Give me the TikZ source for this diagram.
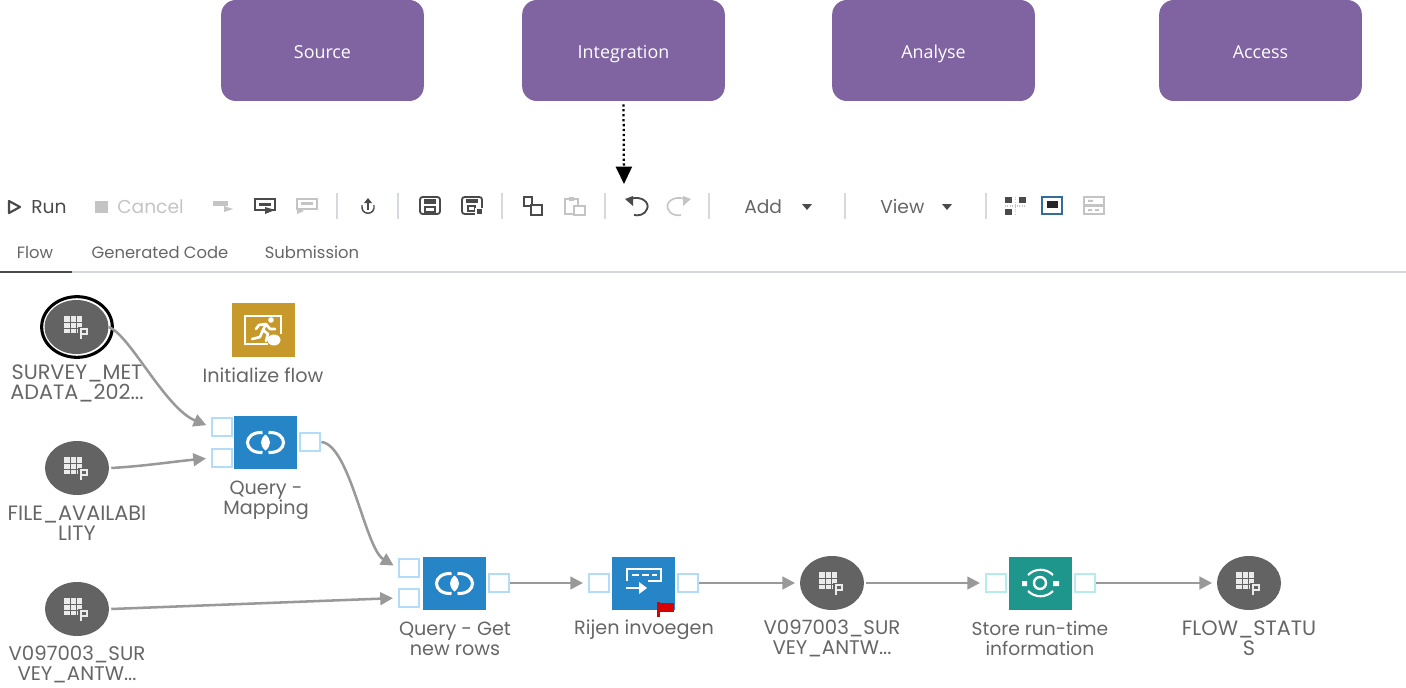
\documentclass[tikz,border=0pt]{standalone}
\usepackage{fontspec}
\setmainfont{Poppins}
\newfontfamily\boxfont{Open Sans}
\usetikzlibrary{arrows.meta,shapes.geometric}
\definecolor{phase}{HTML}{8064A2}
\definecolor{gcirc}{HTML}{636363}
\definecolor{qblue}{HTML}{2585C7}
\definecolor{qgold}{HTML}{C6992A}
\definecolor{qteal}{HTML}{1F968B}
\definecolor{pblue}{HTML}{B3DCFB}
\definecolor{pteal}{HTML}{B5EDEA}
\definecolor{lgrey}{HTML}{666666}
\definecolor{conn}{HTML}{999999}
\definecolor{dis}{HTML}{C4C4C4}
\definecolor{sepc}{HTML}{D5D8DC}
\definecolor{tbar}{HTML}{4A4A4A}
\tikzset{
  x=0.75pt,y=-0.75pt,
  phasebox/.style={draw=none,fill=phase,rounded corners=11pt,minimum width=152pt,minimum height=75.75pt,inner sep=0pt,text=white,text height=13pt,text depth=1pt,font=\boxfont\fontsize{13.4}{15}\selectfont},
  lbl/.style={text=lgrey,align=center,inner sep=0pt,font=\fontsize{14.4}{15}\selectfont},
  storelbl/.style={lbl,font=\fontsize{14.0}{15}\selectfont},
  capslbl/.style={lbl,font=\fontsize{15.6}{15}\selectfont},
  codelbl/.style={lbl,font=\fontsize{14.8}{15}\selectfont},
  tbtext/.style={inner sep=0pt,text height=10pt,text depth=0pt,font=\fontsize{14}{15}\selectfont,text=tbar},
  tabtext/.style={inner sep=0pt,text height=10pt,text depth=0pt,font=\fontsize{12.3}{13}\selectfont,text=lgrey},
  tablecirc/.style={ellipse,fill=gcirc,minimum width=48pt,minimum height=40.5pt,inner sep=0pt},
  stepsq/.style={minimum width=47.25pt,minimum height=40pt,inner sep=0pt},
  portb/.style={draw=pblue,line width=2.1pt,fill=white,minimum width=15pt,minimum height=13.5pt,inner sep=0pt},
  portt/.style={portb,draw=pteal},
  flow/.style={draw=conn,line width=1.9pt,-{Triangle[length=9.5pt,width=9.5pt]},shorten >=3.5pt},
  sepl/.style={draw=sepc,line width=1pt},
  ic/.style={line width=1.1pt},
  wh/.style={draw=white,line width=1.5pt},
  table icon/.pic={
    \fill[white!92!black] (-11,-9) rectangle (7,8);
    \foreach \u in {-5,1} \draw[gcirc,line width=.45pt] (\u,-9) -- (\u,8);
    \foreach \v in {-3,3} \draw[gcirc,line width=.45pt] (-11,\v) -- (7,\v);
    \fill[gcirc] (3,2) rectangle (15,15);
    \draw[white!92!black,line width=1.2pt] (6,14) -- (6,4) -- (12,4) -- (12,9) -- (6,9);
  },
  query icon/.pic={
    \draw[white,line width=2.3pt] (-3,-10) .. controls (-23,-11) and (-23,11) .. (-3,10);
    \draw[white,line width=2.3pt] (3,-10) .. controls (23,-11) and (23,11) .. (3,10);
    \fill[white] (0,-8) .. controls (6,-3) and (6,3) .. (0,8) .. controls (-6,3) and (-6,-3) .. (0,-8);
  },
}
\begin{document}
\begin{tikzpicture}
\useasboundingbox (0,0) rectangle (1406,688);
% phase boxes
\node[phasebox] (source) at (322.5,50.5) {Source};
\node[phasebox] (integration) at (623.5,50.5) {Integration};
\node[phasebox] (analyse) at (933.5,50.5) {Analyse};
\node[phasebox] (access) at (1260.5,50.5) {Access};
\coordinate (toolbarin) at (624,184);
\draw[black,line width=1.7pt,dotted,-{Triangle[length=13pt,width=12pt]}] (integration.south) ++(0,3) -- (toolbarin);
% toolbar
\draw[tbar,line width=1.6pt,line join=round] (9,201) -- (20,207) -- (9,213) -- cycle;
\node[tbtext,anchor=west] (run) at (31,207) {Run};
\fill[dis] (95,201) rectangle (108,213);
\node[tbtext,anchor=west,text=dis] (cancel) at (117,207) {Cancel};
% step icons
\fill[dis] (213,201) rectangle (228,206);
\fill[dis] (224,206) -- (233,209) -- (224,212) -- cycle;
\draw[tbar,line width=1.4pt] (255,199) rectangle (275,210);
\fill[tbar] (259,203) rectangle (271,206);
\fill[tbar] (265,207) -- (275,210) -- (265,214) -- cycle;
\draw[dis,ic] (297,199) rectangle (317,209);
\fill[dis] (301,202) rectangle (313,205);
\fill[dis] (297,208) -- (304,211) -- (297,214) -- cycle;
% separators
\foreach \sx in {337,398,502,605,709,845,986} \draw[sepl] (\sx,193) -- (\sx,219);
% upload
\draw[tbar,ic] (362,205) .. controls (360,216) and (376,216) .. (374,205);
\draw[tbar,ic] (368,210) -- (368,201);
\fill[tbar] (364,203) -- (368,198) -- (372,203) -- cycle;
% save
\draw[tbar,line width=1.4pt,rounded corners=2pt] (420,197) rectangle (440,214);
\fill[tbar] (424,199) rectangle (436,204);
\draw[tbar,ic] (425,207) rectangle (435,212);
\draw[tbar,line width=1.4pt,rounded corners=2pt] (462,197) rectangle (482,214);
\fill[tbar] (466,199) rectangle (478,203);
\draw[tbar,ic] (468,206) rectangle (475,211);
\fill[white] (475,208) rectangle (484,216);
\fill[tbar] (477,209) rectangle (482,214);
% copy / paste
\draw[tbar,ic] (524,197) rectangle (532,206);
\fill[white] (530,204) rectangle (543,215);
\draw[tbar,ic] (531,205) rectangle (542,215);
\draw[dis,ic] (565,199) rectangle (578,214);
\fill[dis] (569,197) rectangle (574,201);
\fill[white] (573,205) rectangle (586,216);
\draw[dis,ic] (574,206) rectangle (585,215);
% undo / redo
\draw[tbar,line width=1.4pt] (630,199) .. controls (642,195) and (650,203) .. (647,209) .. controls (645,215) and (638,216) .. (634,215);
\fill[tbar] (625,199) -- (633,196) -- (633,206) -- cycle;
\draw[dis,line width=1.2pt] (685,199) .. controls (673,195) and (665,203) .. (668,209) .. controls (670,215) and (677,216) .. (681,215);
\fill[dis] (691,199) -- (683,196) -- (683,206) -- cycle;
% add/view
\node[tbtext,anchor=west,text=lgrey] (add) at (744,207) {Add};
\fill[tbar] (802,204) -- (812,204) -- (807,210) -- cycle;
\node[tbtext,anchor=west,text=lgrey] (view) at (880,207) {View};
\fill[tbar] (942,204) -- (952,204) -- (947,210) -- cycle;
% layout icons
\fill[tbar] (1005,197) rectangle (1012,203);
\fill[tbar] (1019,197) rectangle (1026,203);
\fill[tbar] (1005,209) rectangle (1012,215);
\draw[dis,line width=.8pt,densely dotted] (1005,206) -- (1026,206) (1015.5,197) -- (1015.5,215);
\draw[qblue!60!tbar,line width=1.2pt,fill=white] (1042,197) rectangle (1062,214);
\fill[black!85] (1047,201) rectangle (1058,208);
\draw[dis,line width=1pt] (1084,197) rectangle (1104,205) (1084,206) rectangle (1104,214);
\fill[dis] (1088,200) rectangle (1093,202) (1088,209) rectangle (1092,211) (1095,209) rectangle (1099,211);
% tabs
\node[tabtext] (tabflow) at (35,252) {Flow};
\node[tabtext] (tabcode) at (160,252) {Generated Code};
\node[tabtext] (tabsub) at (312,252) {Submission};
\draw[sepc,line width=1pt] (0,272) -- (1406,272);
\draw[tbar,line width=1.2pt] (0,272) -- (72,272);
% data nodes
\node[ellipse,draw=black,line width=2.3pt,fill=white,minimum width=53pt,minimum height=45.5pt,inner sep=0pt] (surveyring) at (77,327) {};
\node[tablecirc] (survey) at (76.5,327) {};
\pic at (75,325) {table icon};
\node[capslbl] (surveylab) at (77,383) {SURVEY\_MET\\ADATA\_202...};
\node[tablecirc] (file) at (77,468) {};
\pic at (75,466) {table icon};
\node[capslbl] (filelab) at (77,523) {FILE\_AVAILABI\\LITY};
\node[tablecirc] (vleft) at (77,609) {};
\pic at (75,607) {table icon};
\node[codelbl] (vleftlab) at (77,664) {V097003\_SUR\\VEY\_ANTW...};
% initialize
\node[stepsq,fill=qgold] (init) at (263.5,330) {};
\draw[wh,line width=1.6pt] (245,316) rectangle (281,344);
\fill[qgold] (268,334) rectangle (284,348);
\fill[white] (274,340) circle[x radius=6.5,y radius=5.5];
\draw[white,line width=2pt,line cap=round,line join=round] (252,339) -- (260,337) -- (263,330) -- (268,334) -- (266,341) (263,330) -- (266,324) -- (259,325) -- (256,329) (266,324) -- (270,329) -- (275,329);
\fill[white] (271,320) circle[radius=2.8];
\node[lbl] (initlab) at (263,375) {Initialize flow};
% query mapping
\node[stepsq,fill=qblue] (qm) at (265.5,442.5) {};
\pic at (265.5,442.5) {query icon};
\node[portb] (qmin1) at (222,427) {};
\node[portb] (qmin2) at (222,458) {};
\node[portb] (qmout) at (310,442) {};
\node[lbl] (qmlab) at (266,500) {Query -\\Mapping};
% query get
\node[stepsq,fill=qblue] (qg) at (454.5,583.5) {};
\pic at (454.5,583.5) {query icon};
\node[portb] (qgin1) at (409,568) {};
\node[portb] (qgin2) at (409,598) {};
\node[portb] (qgout) at (499,583) {};
\node[lbl] (qglab) at (455,639) {Query - Get\\new rows};
% rijen
\node[stepsq,fill=qblue] (rij) at (643.5,583.5) {};
\draw[wh] (627,581) -- (627,569) -- (661,569) -- (661,581) -- (648,581);
\draw[white,line width=1.4pt,dash pattern=on 5pt off 2.5pt] (632,575) -- (657,575);
\draw[wh] (626,588) -- (642,588);
\fill[white] (647,588) -- (639,582) -- (639,594) -- cycle;
\node[portb] (rijin) at (599,583) {};
\node[portb] (rijout) at (688,583) {};
\fill[red!85!black] (657,602) rectangle (659.5,617);
\fill[red!85!black] (659.5,603) rectangle (674,612);
\node[lbl] (rijlab) at (644,630) {Rijen invoegen};
% v mid
\node[tablecirc] (vmid) at (832,583) {};
\pic at (830,581) {table icon};
\node[codelbl] (vmidlab) at (832,638) {V097003\_SUR\\VEY\_ANTW...};
% store
\node[stepsq,fill=qteal] (store) at (1040.5,583.5) {};
\draw[wh,line width=1.8pt] (1040,583) circle[radius=6];
\fill[white] (1022,581) rectangle (1027,586) (1053,581) rectangle (1059,586);
\draw[wh,line width=1.6pt] (1028,575) .. controls (1035,568) and (1046,568) .. (1053,575);
\draw[wh,line width=1.6pt] (1028,591) .. controls (1035,598) and (1046,598) .. (1053,591);
\node[portt] (storein) at (996,583) {};
\node[portt] (storeout) at (1085,583) {};
\node[storelbl] (storelab) at (1040,638) {Store run-time\\information};
% flow status
\node[tablecirc] (status) at (1249,583) {};
\pic at (1247,581) {table icon};
\node[capslbl] (statuslab) at (1249,638) {FLOW\_STATU\\S};
% connectors
\draw[flow] (survey.east) .. controls (130,335) and (165,408) .. (qmin1.west);
\draw[flow] (file.east) ++(2,0) .. controls (145,466) and (170,462) .. (qmin2.west);
\draw[flow] (vleft.east) ++(2,0) -- (qgin2.west);
\draw[flow] (qmout.east) .. controls (350,445) and (365,548) .. (qgin1.west);
\draw[flow] (qgout.east) -- (rijin.west);
\draw[flow] (rijout.east) -- (vmid.west);
\draw[flow] (vmid.east) ++(2,0) -- (storein.west);
\draw[flow] (storeout.east) -- (status.west);
\end{tikzpicture}
\end{document}
